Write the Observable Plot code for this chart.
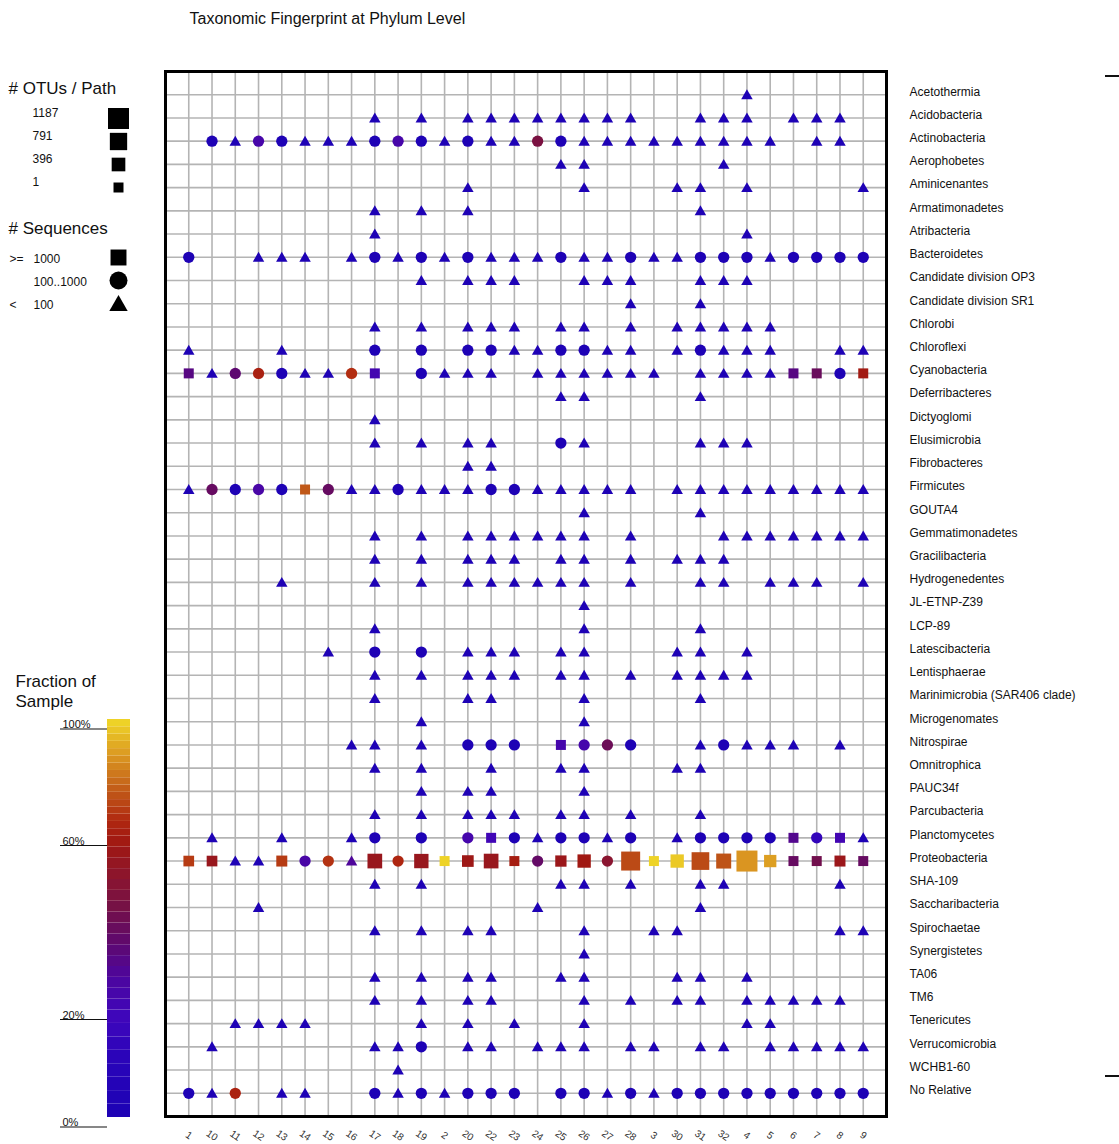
<!DOCTYPE html>
<html>
<head>
<meta charset="utf-8">
<script src="https://cdn.jsdelivr.net/npm/d3@7"></script>
<script src="https://cdn.jsdelivr.net/npm/@observablehq/plot@0.6"></script>
<style>
  html, body { margin: 0; padding: 0; background: #fff; }
  #wrap { position: relative; width: 1119px; height: 1144px; overflow: hidden; }
  .edge { position: absolute; left: 1105px; width: 14px; height: 2px; background: #111; }
</style>
</head>
<body>
<div id="wrap"></div>
<script>
// ---------------- data ----------------
const title = "Taxonomic Fingerprint at Phylum Level";

const samples = ["1","10","11","12","13","14","15","16","17","18","19","2","20","22","23",
                 "24","25","26","27","28","3","30","31","32","4","5","6","7","8","9"];

const phyla = ["Acetothermia","Acidobacteria","Actinobacteria","Aerophobetes","Aminicenantes",
  "Armatimonadetes","Atribacteria","Bacteroidetes","Candidate division OP3","Candidate division SR1",
  "Chlorobi","Chloroflexi","Cyanobacteria","Deferribacteres","Dictyoglomi","Elusimicrobia",
  "Fibrobacteres","Firmicutes","GOUTA4","Gemmatimonadetes","Gracilibacteria","Hydrogenedentes",
  "JL-ETNP-Z39","LCP-89","Latescibacteria","Lentisphaerae","Marinimicrobia (SAR406 clade)",
  "Microgenomates","Nitrospirae","Omnitrophica","PAUC34f","Parcubacteria","Planctomycetes",
  "Proteobacteria","SHA-109","Saccharibacteria","Spirochaetae","Synergistetes","TA06","TM6",
  "Tenericutes","Verrucomicrobia","WCHB1-60","No Relative"];

// # sequences class per sample (s: >=1000, c: 100..1000, t: <100, .: absent), one string per phylum
const sequenceClassRows = [
  "..... ..... ..... ..... ....t .....",
  "..... ...t. t.ttt ttttt ..ttt .ttt.",
  ".ctcc tttcc ctctt ccttt ttttt t.tt.",
  "..... ..... ..... .tt.. ...t. .....",
  "..... ..... ..t.. ..t.. .tt.t ....t",
  "..... ...t. t.t.. ..... ..t.. .....",
  "..... ...t. ..... ..... ....t .....",
  "c..tt t.tct ctctt tcttc ttccc tcccc",
  "..... ..... t.ttt ..ttt ..ttt .....",
  "..... ..... ..... ....t ..t.. .....",
  "..... ...t. t.ttt .tt.t .tttt t....",
  "t...t ...c. c.cct tcctt .tctt t..tt",
  "stccc ttcs. cttt. ttttt t.ttt tsscs",
  "..... ..... ..... .tt.. ..t.. .....",
  "..... ...t. ..... ..... ..... .....",
  "..... ...t. t.tt. .ct.. ..ttt .....",
  "..... ..... ..tt. ..... ..... .....",
  "tcccc scttc tttcc ttttt .tttt ttttt",
  "..... ..... ..... ..t.. ..t.. .....",
  "..... ...t. t.ttt ttt.t ...tt ttttt",
  "..... ...t. t.ttt .tt.t .ttt. .....",
  "....t ...t. t.ttt ttt.t ..tt. ttt.t",
  "..... ..... ..... ..t.. ..... .....",
  "..... ...t. ..... ..t.. ..t.. .....",
  "..... .t.c. c.ttt .tt.. .tt.t .....",
  "..... ...t. t.ttt .tt.t .tttt .....",
  "..... ...t. ..tt. ..t.. ..t.. .....",
  "..... ..... t.... ..t.. ..... .....",
  "..... ..tt. t.ccc .sccc ..tct tt.t.",
  "..... ...t. t..t. .tt.. .tt.. .....",
  "..... ..... t.tt. ..t.. ..... .....",
  "..... ...t. t.ttt .tt.t ..t.. .....",
  ".t..t ..tc. c.csc tcctc .tccc cscst",
  "sstts cctsc sssss csscs sssss sssss",
  "..... ...t. t.... .tt.t ..tt. ...t.",
  "...t. ..... ..... t.... ..t.. .....",
  "..... ...t. t.tt. ..t.. tt... ...tt",
  "..... ..... ..... ..t.. ..... .....",
  "..... ...t. t.tt. .tt.. .tt.t .....",
  "..... ...t. t.tt. ..t.t .tt.t tttt.",
  "..ttt t.... t.t.t ..t.. ....t t....",
  ".t... ...tt c.tt. ttt.t t.tt. ttttt",
  "..... ....t ..... ..... ..... .....",
  "ctc.t t..ct ctccc .cctc tcccc ccccc"
];

// fraction of sample (%) for the points that are not deep blue
const baseFraction = 2;
const fractionNotes = [
  ["Actinobacteria","12",24], ["Actinobacteria","18",24], ["Actinobacteria","24",45],
  ["Cyanobacteria","1",32], ["Cyanobacteria","11",35], ["Cyanobacteria","12",62],
  ["Cyanobacteria","16",66], ["Cyanobacteria","17",22], ["Cyanobacteria","6",32],
  ["Cyanobacteria","7",39], ["Cyanobacteria","9",59],
  ["Firmicutes","10",38], ["Firmicutes","12",25], ["Firmicutes","14",75], ["Firmicutes","15",38],
  ["Nitrospirae","25",23], ["Nitrospirae","26",23], ["Nitrospirae","27",40],
  ["Planctomycetes","20",23], ["Planctomycetes","22",20], ["Planctomycetes","6",30],
  ["Planctomycetes","7",14], ["Planctomycetes","8",21],
  ["Proteobacteria","1",69], ["Proteobacteria","10",55], ["Proteobacteria","13",69],
  ["Proteobacteria","14",25], ["Proteobacteria","15",67], ["Proteobacteria","16",28],
  ["Proteobacteria","17",55], ["Proteobacteria","18",64], ["Proteobacteria","19",55],
  ["Proteobacteria","2",99], ["Proteobacteria","20",57], ["Proteobacteria","22",55],
  ["Proteobacteria","23",60], ["Proteobacteria","24",37], ["Proteobacteria","25",56],
  ["Proteobacteria","26",58], ["Proteobacteria","27",50], ["Proteobacteria","28",72],
  ["Proteobacteria","3",99], ["Proteobacteria","30",97], ["Proteobacteria","31",72],
  ["Proteobacteria","32",74], ["Proteobacteria","4",87], ["Proteobacteria","5",89],
  ["Proteobacteria","6",38], ["Proteobacteria","7",42], ["Proteobacteria","8",56],
  ["Proteobacteria","9",38],
  ["No Relative","11",63]
];

// # OTUs / path
const baseOtus = 1;
const proteobacteriaOtus = [75, 75, 1, 1, 108, 1, 1, 1, 507, 1, 470, 1, 180, 507, 1,
                            1, 140, 360, 1, 970, 1, 360, 830, 540, 1187, 250, 1, 1, 108, 1];

// legends
const otuLegendValues = [1187, 791, 396, 1];
const seqKeys = ["s", "c", "t"];
const seqSigns = [">=", "", "<"];
const seqLabels = ["1000", "100..1000", "100"];
const colorTicks = [0, 20, 60, 100];
const colorStops = [0, 10, 18, 27, 35, 43, 50, 58, 65, 75, 86, 100];
const colorStopColors = ["#1c02b4", "#2804b8", "#3e06bc", "#4c06a0", "#5e0870", "#741048",
                         "#8a1530", "#a01812", "#b02810", "#c05818", "#d89020", "#f0d828"];

// ---------------- build ----------------
const FONT = '"Liberation Sans", Arial, Helvetica, sans-serif';
const fractionMap = new Map(fractionNotes.map(([p, s, v]) => [p + "|" + s, v]));

const records = [];
phyla.forEach((p, i) => {
  const row = sequenceClassRows[i].replace(/ /g, "");
  [...row].forEach((ch, j) => {
    if (ch === ".") return;
    const s = samples[j];
    records.push({
      phylum: p, sample: s, shape: ch,
      fraction: fractionMap.has(p + "|" + s) ? fractionMap.get(p + "|" + s) : baseFraction,
      otus: p === "Proteobacteria" ? proteobacteriaOtus[j] : baseOtus
    });
  });
});

const triangle = {
  draw(ctx, size) {
    const s = Math.sqrt(size) * 1.15;
    const h = s * Math.sqrt(3) / 2;
    ctx.moveTo(0, -h / 2 - 0.5);
    ctx.lineTo(s / 2, h / 2 - 0.5);
    ctx.lineTo(-s / 2, h / 2 - 0.5);
    ctx.closePath();
  }
};

const symbolScale = {domain: seqKeys, range: ["square", "circle", triangle]};
const colorScale = {type: "linear", domain: colorStops, range: colorStopColors};
const rScale = {type: "linear", domain: [1, 1187], range: [5.64, 11.85]};
const abs = (top) => ({position: "absolute", left: "0px", top: top + "px", background: "transparent",
                       overflow: "visible", fontFamily: FONT, maxWidth: "none"});

const wrap = document.getElementById("wrap");

const main = Plot.plot({
  width: 1119, height: 1144,
  marginTop: 71, marginRight: 233, marginBottom: 28, marginLeft: 165,
  style: abs(0),
  x: {type: "point", domain: samples, padding: 1, round: false, axis: null},
  y: {type: "point", domain: phyla, padding: 1, round: false, axis: null},
  r: rScale, symbol: symbolScale, color: colorScale,
  marks: [
    Plot.gridX(samples, {stroke: "#b4b4b4", strokeOpacity: 1, strokeWidth: 1.6}),
    Plot.gridY(phyla, {stroke: "#b4b4b4", strokeOpacity: 1, strokeWidth: 1.6}),
    Plot.frame({stroke: "#000", strokeWidth: 3}),
    Plot.dot(records, {x: "sample", y: "phylum", symbol: "shape", r: "otus", fill: "fraction"}),
    Plot.axisY(phyla, {anchor: "right", tickSize: 0, tickPadding: 23, dy: -3, fontSize: 12, fill: "#111", label: null}),
    Plot.text(samples, {x: d => d, frameAnchor: "bottom", lineAnchor: "middle", dy: 19, rotate: 35, fontSize: 10, fill: "#333"}),
    Plot.text([title], {frameAnchor: "top-left", lineAnchor: "middle", dx: 24, dy: -53, textAnchor: "start", fontSize: 16, fill: "#111"})
  ]
});
wrap.appendChild(main);

const otuLegend = Plot.plot({
  width: 160, height: 200, margin: 0,
  style: abs(0),
  y: {type: "point", domain: otuLegendValues, range: [118, 187], padding: 0, axis: null},
  r: rScale,
  marks: [
    Plot.text(["# OTUs / Path"], {frameAnchor: "top-left", lineAnchor: "middle", dx: 8, dy: 88, textAnchor: "start", fontSize: 17, fill: "#111"}),
    Plot.text(otuLegendValues, {y: d => d, text: d => String(d), frameAnchor: "left", dx: 32, dy: -5, textAnchor: "start", fontSize: 12, fill: "#111"}),
    Plot.dot(otuLegendValues, {y: d => d, r: d => d, symbol: "square", frameAnchor: "left", dx: 118, fill: "#000"})
  ]
});
wrap.appendChild(otuLegend);

const seqLegend = Plot.plot({
  width: 160, height: 330, margin: 0,
  style: abs(0),
  y: {type: "point", domain: seqKeys, range: [257, 303.5], padding: 0, axis: null},
  symbol: symbolScale,
  marks: [
    Plot.text(["# Sequences"], {frameAnchor: "top-left", lineAnchor: "middle", dx: 8, dy: 228, textAnchor: "start", fontSize: 17, fill: "#111"}),
    Plot.text(seqKeys, {y: d => d, text: (d, i) => seqSigns[i], frameAnchor: "left", dx: 9, dy: 2, textAnchor: "start", fontSize: 12, fill: "#111"}),
    Plot.text(seqKeys, {y: d => d, text: (d, i) => seqLabels[i], frameAnchor: "left", dx: 33, dy: 2, textAnchor: "start", fontSize: 12, fill: "#111"}),
    Plot.dot(seqKeys, {y: d => d, symbol: d => d, r: 9, frameAnchor: "left", dx: 118, fill: "#000"})
  ]
});
wrap.appendChild(seqLegend);

const colorSteps = d3.range(0, 100, 2.5);
const colorLegend = Plot.plot({
  width: 140, height: 494, marginLeft: 107, marginRight: 10, marginTop: 0, marginBottom: 0,
  style: abs(650),
  y: {type: "linear", domain: colorTicks, range: [467, 359.5, 185.5, 69], axis: null},
  color: colorScale,
  marks: [
    Plot.text(["Fraction of\nSample"], {frameAnchor: "top-left", lineAnchor: "middle", dx: -92, dy: 40.3, textAnchor: "start", lineHeight: 1.15, fontSize: 17, fill: "#111"}),
    Plot.rect(colorSteps, {y1: d => d, y2: d => d + 2.5, fill: d => d + 1.25}),
    Plot.ruleY(colorTicks, {y: d => d, dy: 9.5, insetLeft: -47, insetRight: 23, stroke: "#111", strokeWidth: 1.2}),
    Plot.text(colorTicks, {y: d => d, text: d => d + "%", frameAnchor: "left", dx: -45, dy: 5, textAnchor: "start", fontSize: 11, fill: "#111"})
  ]
});
wrap.appendChild(colorLegend);

[75, 1075].forEach(t => {
  const e = document.createElement("div");
  e.className = "edge";
  e.style.top = t + "px";
  wrap.appendChild(e);
});
</script>
</body>
</html>
